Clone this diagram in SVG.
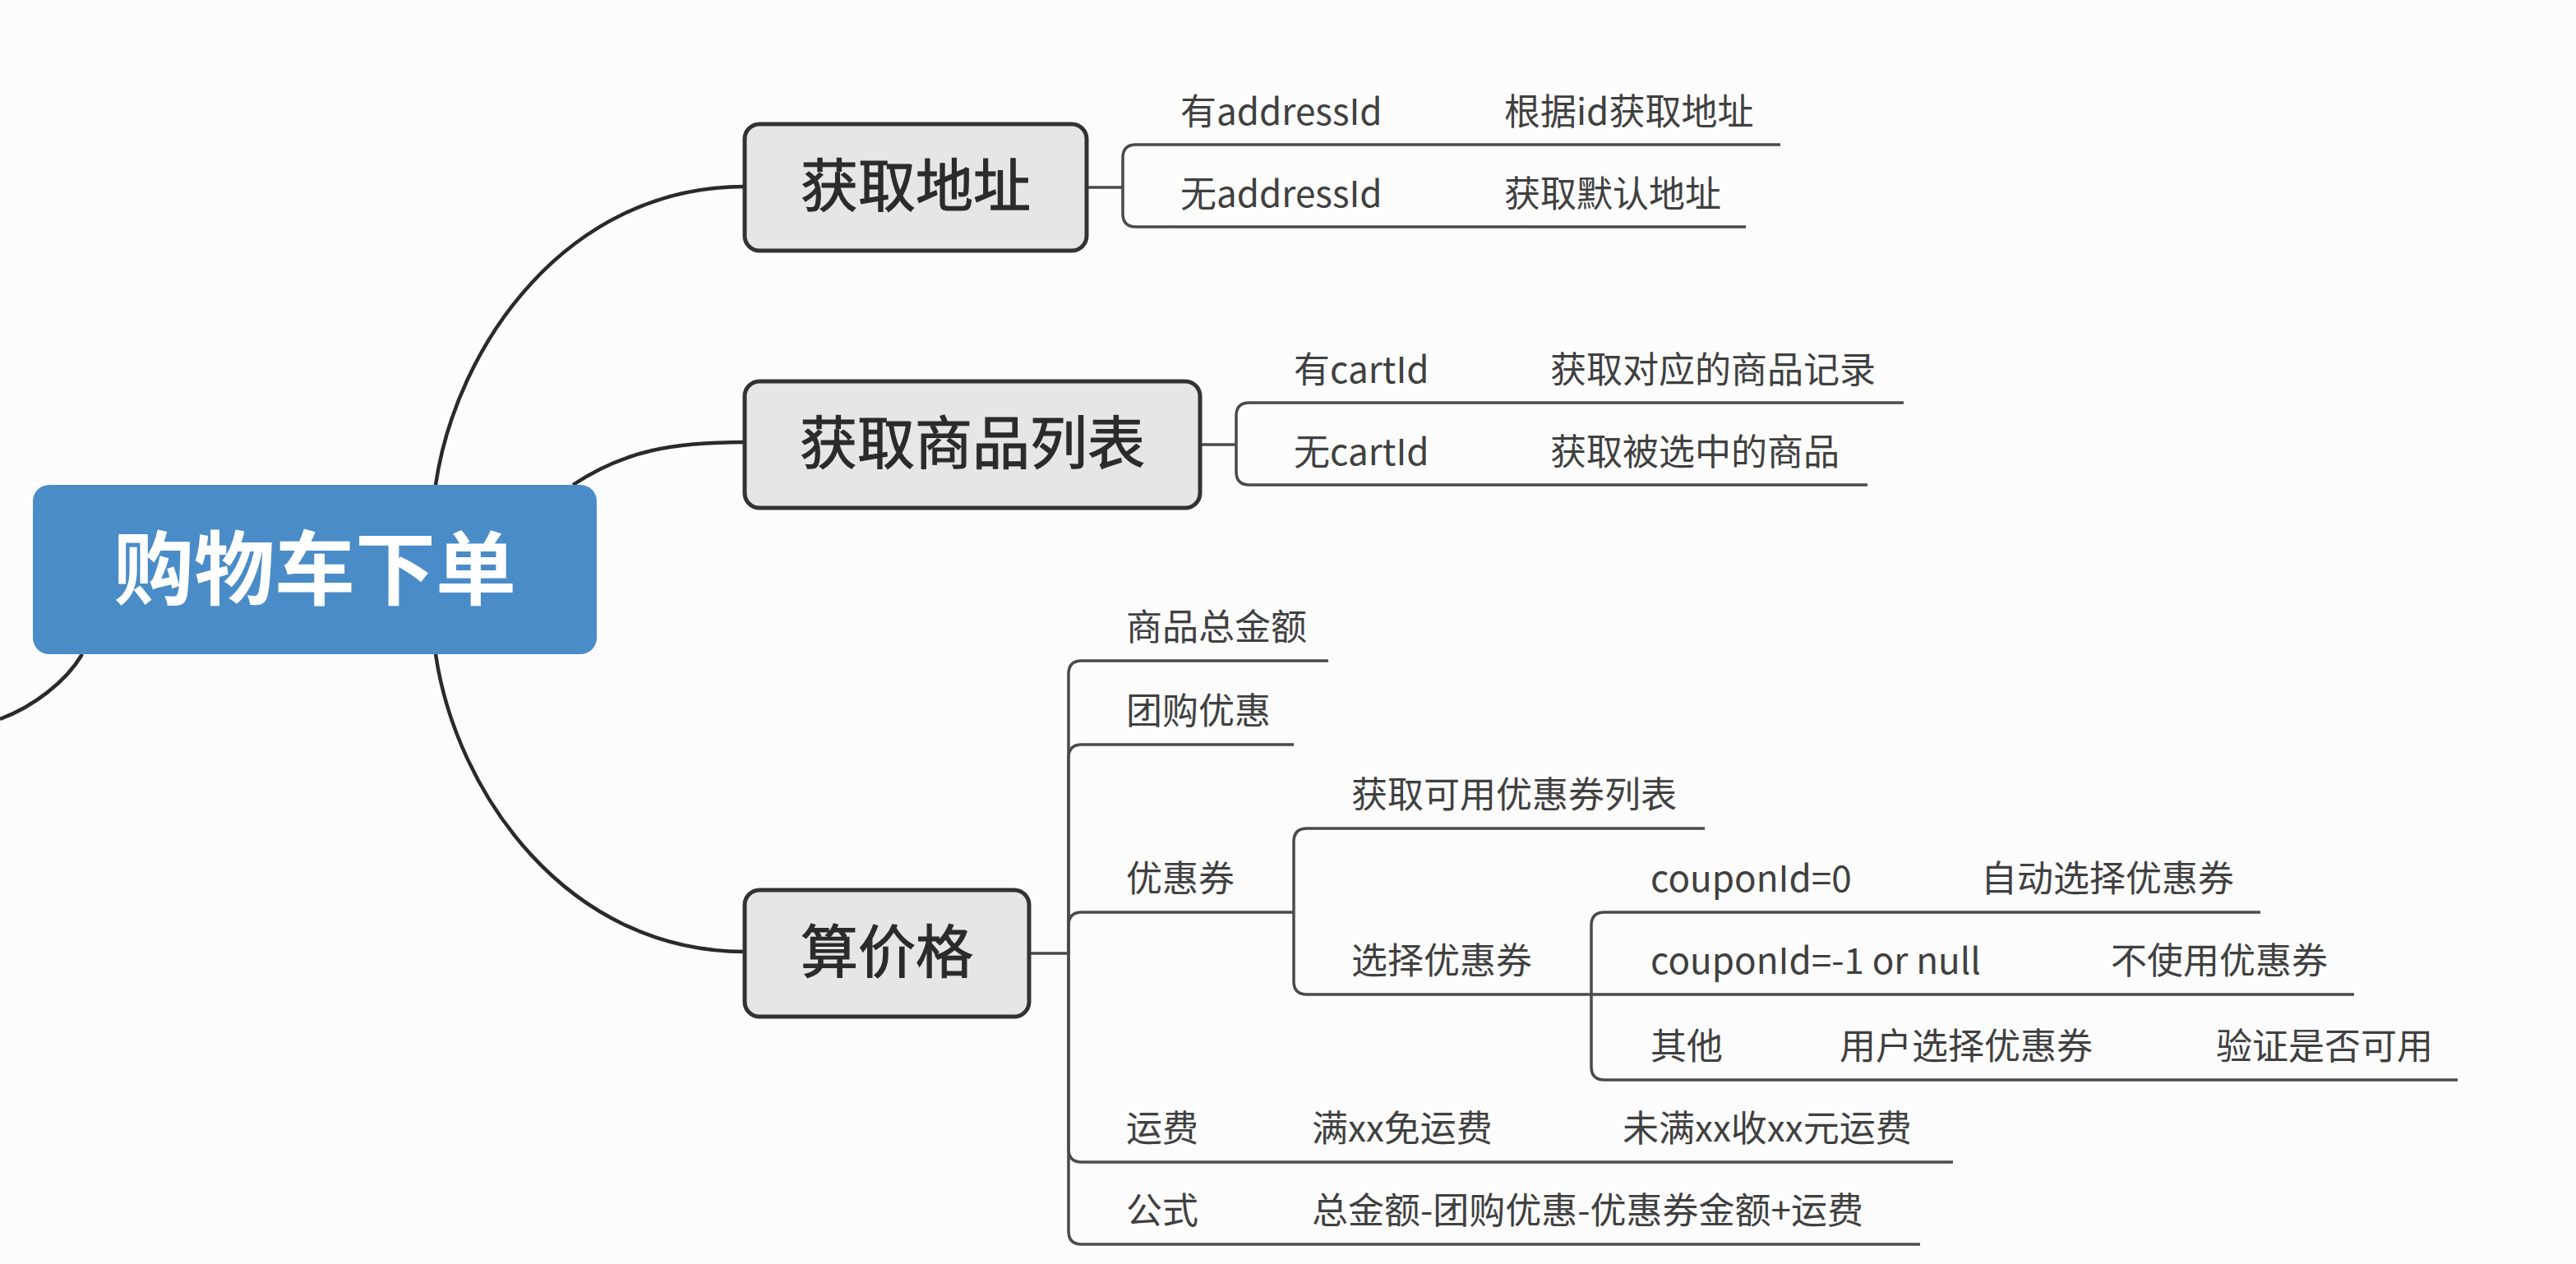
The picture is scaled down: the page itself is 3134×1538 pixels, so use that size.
<svg xmlns="http://www.w3.org/2000/svg" width="3134" height="1538" viewBox="0 0 3134 1538">
<style>
.bg{fill:#fcfcfc}
.root{fill:#4a8cc7}
.rootText{font-family:"Noto Sans CJK SC","Noto Sans",sans-serif;font-size:98px;font-weight:bold;fill:#ffffff;text-anchor:middle}
.main{fill:#e6e6e6;stroke:#333333;stroke-width:5}
.mainText{font-family:"Noto Sans CJK SC","Noto Sans",sans-serif;font-size:70px;fill:#2b2b2b;stroke:#2b2b2b;stroke-width:1.2;text-anchor:middle}
.sub{font-family:"Noto Sans CJK SC","Noto Sans",sans-serif;font-size:44px;fill:#404040}
.curve{fill:none;stroke:#2a2a2a;stroke-width:4.5}
.line{fill:none;stroke:#4a4a4a;stroke-width:3.5}
</style>
<rect class="bg" x="0" y="0" width="3134" height="1538"/>
<g id="connectors">
<path class="curve" d="M530,590 C555,420 690,227 906,227"/>
<path class="curve" d="M697,590 C760,548 820,538 906,538"/>
<path class="curve" d="M530,796 C555,965 690,1158 906,1158"/>
<path class="curve" d="M100,796 C80,830 40,860 0,875"/>
<path class="line" d="M1322,228 H1366"/>
<path class="line" d="M1366,228 V192 Q1366,176 1382,176 H2166"/>
<path class="line" d="M1366,228 V260 Q1366,276 1382,276 H2124"/>
<path class="line" d="M1460,541 H1504"/>
<path class="line" d="M1504,541 V506 Q1504,490 1520,490 H2316"/>
<path class="line" d="M1504,541 V574 Q1504,590 1520,590 H2272"/>
<path class="line" d="M1252,1160 H1300"/>
<path class="line" d="M1300,1160 V820 Q1300,804 1316,804 H1616"/>
<path class="line" d="M1300,1160 V922 Q1300,906 1316,906 H1574"/>
<path class="line" d="M1300,1160 V1126 Q1300,1110 1316,1110 H1574"/>
<path class="line" d="M1300,1160 V1398 Q1300,1414 1316,1414 H2376"/>
<path class="line" d="M1300,1160 V1498 Q1300,1514 1316,1514 H2336"/>
<path class="line" d="M1574,1110 V1024 Q1574,1008 1590,1008 H2074"/>
<path class="line" d="M1574,1110 V1194 Q1574,1210 1590,1210 H1936"/>
<path class="line" d="M1936,1210 V1126 Q1936,1110 1952,1110 H2750"/>
<path class="line" d="M1936,1210 H2864"/>
<path class="line" d="M1936,1210 V1298 Q1936,1314 1952,1314 H2990"/>
</g>
<g id="root">
<rect class="root" x="40" y="590" width="686" height="206" rx="20"/>
<text class="rootText" x="383" y="728">购物车下单</text>
</g>
<g id="node-address">
<rect class="main" x="906" y="151" width="416" height="154" rx="18"/>
<text class="mainText" x="1114" y="252">获取地址</text>
</g>
<g id="node-goods">
<rect class="main" x="906" y="464" width="554" height="154" rx="18"/>
<text class="mainText" x="1183" y="565">获取商品列表</text>
</g>
<g id="node-price">
<rect class="main" x="906" y="1083" width="346" height="154" rx="18"/>
<text class="mainText" x="1079" y="1184">算价格</text>
</g>
<g id="address-children">
<text class="sub" x="1436" y="152">有addressId</text>
<text class="sub" x="1830" y="152">根据id获取地址</text>
<text class="sub" x="1436" y="252">无addressId</text>
<text class="sub" x="1830" y="252">获取默认地址</text>
</g>
<g id="goods-children">
<text class="sub" x="1574" y="466">有cartId</text>
<text class="sub" x="1886" y="466">获取对应的商品记录</text>
<text class="sub" x="1574" y="566">无cartId</text>
<text class="sub" x="1886" y="566">获取被选中的商品</text>
</g>
<g id="price-children">
<text class="sub" x="1370" y="779">商品总金额</text>
<text class="sub" x="1370" y="881">团购优惠</text>
<text class="sub" x="1370" y="1085">优惠券</text>
<text class="sub" x="1644" y="983">获取可用优惠券列表</text>
<text class="sub" x="1644" y="1185">选择优惠券</text>
<text class="sub" x="2008" y="1085">couponId=0</text>
<text class="sub" x="2410" y="1085">自动选择优惠券</text>
<text class="sub" x="2008" y="1185">couponId=-1 or null</text>
<text class="sub" x="2568" y="1185">不使用优惠券</text>
<text class="sub" x="2008" y="1289">其他</text>
<text class="sub" x="2238" y="1289">用户选择优惠券</text>
<text class="sub" x="2696" y="1289">验证是否可用</text>
<text class="sub" x="1370" y="1389">运费</text>
<text class="sub" x="1596" y="1389">满xx免运费</text>
<text class="sub" x="1974" y="1389">未满xx收xx元运费</text>
<text class="sub" x="1370" y="1489">公式</text>
<text class="sub" x="1596" y="1489">总金额-团购优惠-优惠券金额+运费</text>
</g>
</svg>
